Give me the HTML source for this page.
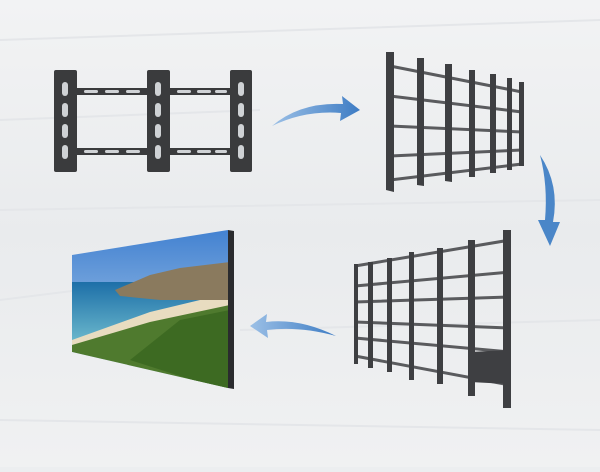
<!DOCTYPE html>
<html><head><style>body{margin:0;width:600px;height:467px;overflow:hidden;background:#eceef0}</style></head><body>
<svg width="600" height="467" viewBox="0 0 600 467" xmlns="http://www.w3.org/2000/svg">
<defs>
<linearGradient id="bg" x1="0" y1="0" x2="0" y2="1"><stop offset="0" stop-color="#f2f3f4"/><stop offset="0.5" stop-color="#e9ebed"/><stop offset="1" stop-color="#f0f1f2"/></linearGradient>
<linearGradient id="sky" x1="0" y1="0" x2="0" y2="1"><stop offset="0" stop-color="#3f7fd0"/><stop offset="1" stop-color="#c4dcef"/></linearGradient>
<linearGradient id="sea" x1="0" y1="0" x2="0" y2="1"><stop offset="0" stop-color="#1d6fa8"/><stop offset="1" stop-color="#6bb8cc"/></linearGradient>
<linearGradient id="arr" x1="0" y1="0" x2="1" y2="0"><stop offset="0" stop-color="#9cc0e6"/><stop offset="1" stop-color="#3d7cc4"/></linearGradient>
<clipPath id="scr"><polygon points="72,255 228,230 228,388 72,352"/></clipPath>
</defs>
<rect width="600" height="467" fill="url(#bg)"/>
<g stroke="#e4e6e9" stroke-width="2" fill="none">
<path d="M0,40 L600,20 M0,120 L260,110 M0,210 L600,200 M0,300 L80,290 M240,330 L600,320 M0,420 L600,430"/>
</g>
<g fill="#3a3b3d">
<rect x="74" y="88" width="160" height="7"/><rect x="74" y="148" width="160" height="7"/>
<rect x="54" y="70" width="23" height="102" rx="2"/><rect x="147" y="70" width="23" height="102" rx="2"/><rect x="230" y="70" width="22" height="102" rx="2"/>
</g>
<g fill="#cfd2d5">
<rect x="62" y="82" width="6" height="14" rx="3"/><rect x="62" y="103" width="6" height="14" rx="3"/><rect x="62" y="124" width="6" height="14" rx="3"/><rect x="62" y="145" width="6" height="14" rx="3"/>
<rect x="155" y="82" width="6" height="14" rx="3"/><rect x="155" y="103" width="6" height="14" rx="3"/><rect x="155" y="124" width="6" height="14" rx="3"/><rect x="155" y="145" width="6" height="14" rx="3"/>
<rect x="238" y="82" width="6" height="14" rx="3"/><rect x="238" y="103" width="6" height="14" rx="3"/><rect x="238" y="124" width="6" height="14" rx="3"/><rect x="238" y="145" width="6" height="14" rx="3"/>
<rect x="84" y="90" width="14" height="3" rx="1.5"/><rect x="105" y="90" width="14" height="3" rx="1.5"/><rect x="126" y="90" width="14" height="3" rx="1.5"/>
<rect x="177" y="90" width="14" height="3" rx="1.5"/><rect x="197" y="90" width="14" height="3" rx="1.5"/><rect x="215" y="90" width="12" height="3" rx="1.5"/>
<rect x="84" y="150" width="14" height="3" rx="1.5"/><rect x="105" y="150" width="14" height="3" rx="1.5"/><rect x="126" y="150" width="14" height="3" rx="1.5"/>
<rect x="177" y="150" width="14" height="3" rx="1.5"/><rect x="197" y="150" width="14" height="3" rx="1.5"/><rect x="215" y="150" width="12" height="3" rx="1.5"/>
</g>
<g stroke="#5a5b5e" stroke-width="3" fill="none">
<path d="M390,66 L522,92 M390,96 L522,112 M390,126 L522,132 M390,156 L522,150 M390,180 L522,164"/>
</g>
<g fill="#3e3f42">
<polygon points="386,52 394,52 394,192 386,190"/>
<polygon points="417,58 424,58 424,186 417,185"/>
<polygon points="445,64 452,64 452,182 445,181"/>
<polygon points="469,70 475,70 475,177 469,177"/>
<polygon points="490,74 496,74 496,173 490,173"/>
<polygon points="507,78 512,78 512,170 507,170"/>
<polygon points="519,82 524,82 524,166 519,166"/>
</g>
<g stroke="#5a5b5e" stroke-width="3" fill="none">
<path d="M355,266 L510,240 M355,286 L510,272 M355,302 L510,297 M355,322 L510,328 M355,338 L510,352 M355,356 L510,385"/>
</g>
<g fill="#3e3f42">
<polygon points="354,264 358,264 358,364 354,364"/>
<polygon points="368,262 373,262 373,368 368,368"/>
<polygon points="387,258 392,258 392,372 387,372"/>
<polygon points="409,252 414,252 414,380 409,380"/>
<polygon points="437,248 443,248 443,384 437,384"/>
<polygon points="468,240 475,240 475,396 468,396"/>
<polygon points="503,230 511,230 511,408 503,408"/>
<polygon points="470,352 508,350 508,384 470,382"/>
</g>
<polygon points="228,230 234,231 234,389 228,388" fill="#2a2b2e"/>
<g clip-path="url(#scr)">
<rect x="70" y="225" width="165" height="170" fill="url(#sky)"/>
<rect x="70" y="282" width="165" height="60" fill="url(#sea)"/>
<polygon points="115,290 150,275 180,268 230,262 230,300 160,300 120,296" fill="#8a7a5e"/>
<polygon points="72,340 150,312 200,300 230,300 230,310 150,325 72,345" fill="#e8dcc0"/>
<polygon points="72,352 72,345 150,322 230,305 230,392" fill="#4f7a2e"/>
<polygon points="130,360 180,320 230,310 230,392" fill="#3d6a22"/>
</g>
<path d="M272,126 Q300,102 343,104 L342,96 L360,110 L340,121 L341,113 Q305,110 272,126 Z" fill="url(#arr)"/>
<path d="M540,155 Q560,185 553,222 L560,222 L550,246 L538,220 L545,220 Q548,185 540,155 Z" fill="#4a86c8"/>
<path d="M336,336 Q300,318 266,322 L267,314 L250,326 L268,338 L267,330 Q300,326 336,336 Z" fill="url(#arr)"/>
</svg>
</body></html>
